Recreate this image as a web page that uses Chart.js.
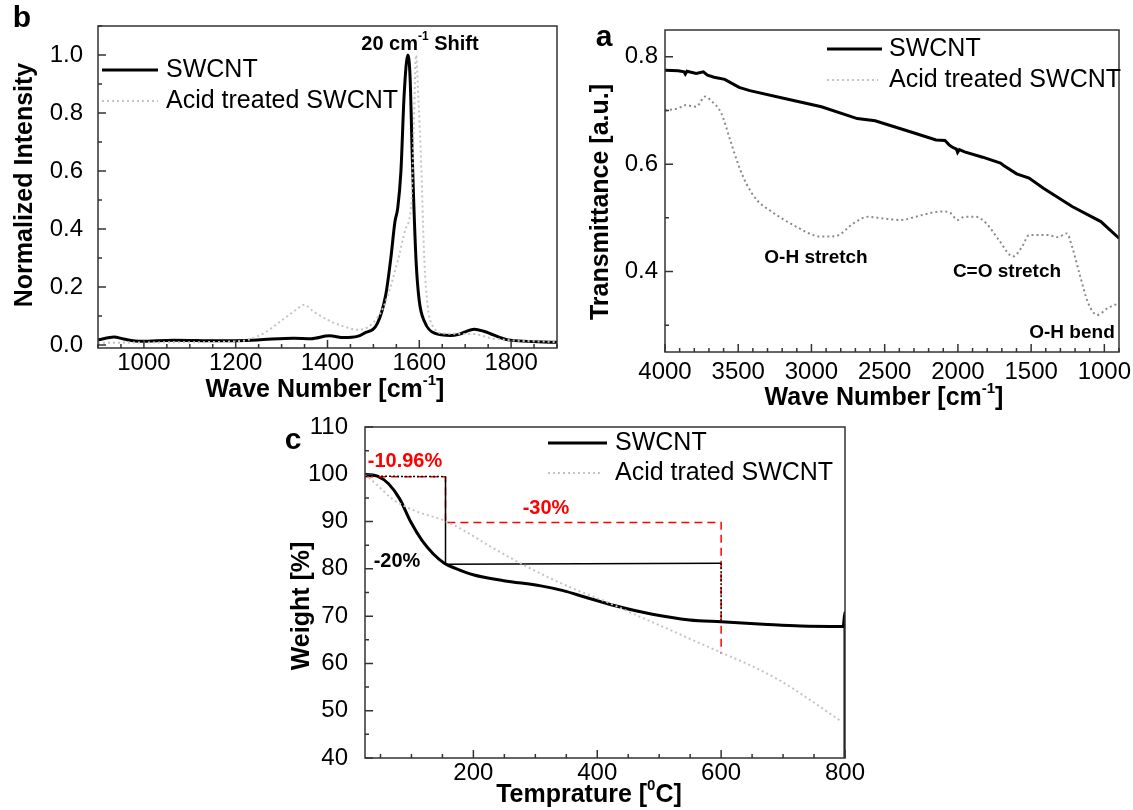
<!DOCTYPE html>
<html>
<head>
<meta charset="utf-8">
<script src="https://cdn.jsdelivr.net/npm/chart.js@4.4.1/dist/chart.umd.min.js"></script>
<style>
  body { margin: 0; background: #fff; width: 1133px; height: 810px; position: relative; overflow: hidden; }
  canvas { position: absolute; }
</style>
</head>
<body>
<canvas id="raman" width="575" height="410" style="left:0px;top:0px"></canvas>
<canvas id="ftir" width="558" height="410" style="left:575px;top:0px"></canvas>
<canvas id="tga" width="620" height="400" style="left:270px;top:410px"></canvas>
<script>
const FONT = "'Liberation Sans', Arial, sans-serif";

// panel b - Raman
const ramanSwcntX = [900, 935, 956, 993, 1065, 1160, 1247, 1327, 1364, 1404, 1436, 1465, 1480, 1509, 1527, 1538, 1547, 1553, 1560, 1567, 1575, 1580, 1585, 1593, 1600, 1611, 1633, 1669, 1684, 1720, 1742, 1793, 1900];
const ramanSwcntY = [0.018, 0.028, 0.021, 0.013, 0.017, 0.015, 0.018, 0.024, 0.022, 0.032, 0.026, 0.030, 0.041, 0.076, 0.174, 0.30, 0.426, 0.472, 0.60, 0.863, 1.0, 0.92, 0.633, 0.289, 0.151, 0.082, 0.041, 0.033, 0.036, 0.055, 0.047, 0.018, 0.010];
const ramanAcidX = [900, 1000, 1100, 1211, 1260, 1300, 1330, 1349, 1370, 1407, 1436, 1465, 1495, 1524, 1553, 1570, 1583, 1588, 1593, 1598, 1604, 1611, 1625, 1655, 1720, 1756, 1900];
const ramanAcidY = [0.008, 0.009, 0.010, 0.014, 0.040, 0.085, 0.120, 0.139, 0.115, 0.082, 0.064, 0.053, 0.070, 0.139, 0.29, 0.40, 0.50, 0.75, 1.0, 0.85, 0.63, 0.29, 0.08, 0.04, 0.038, 0.024, 0.010];
const ramanXTicks = [1000, 1200, 1400, 1600, 1800];
const ramanYTicks = [0, 0.2, 0.4, 0.6, 0.8, 1.0];

// panel a - FTIR
const ftirSwcntX = [4000, 3910, 3870, 3861, 3850, 3787, 3738, 3710, 3665, 3592, 3494, 3421, 3176, 2932, 2687, 2565, 2320, 2149, 2088, 2060, 2040, 2010, 2002, 1990, 1954, 1831, 1709, 1690, 1599, 1514, 1416, 1220, 1024, 900];
const ftirSwcntY = [0.775, 0.774, 0.772, 0.768, 0.773, 0.769, 0.772, 0.766, 0.762, 0.758, 0.743, 0.737, 0.722, 0.707, 0.685, 0.681, 0.660, 0.645, 0.644, 0.636, 0.632, 0.628, 0.622, 0.627, 0.623, 0.613, 0.602, 0.598, 0.582, 0.574, 0.555, 0.521, 0.493, 0.462];
const ftirAcidX = [4000, 3910, 3861, 3787, 3726, 3689, 3616, 3555, 3494, 3445, 3372, 3274, 3127, 2932, 2834, 2711, 2614, 2516, 2394, 2247, 2112, 2051, 2002, 1954, 1880, 1807, 1721, 1623, 1562, 1514, 1391, 1318, 1257, 1220, 1171, 1110, 1049, 976, 927, 900];
const ftirAcidY = [0.700, 0.704, 0.710, 0.707, 0.726, 0.719, 0.695, 0.645, 0.595, 0.564, 0.533, 0.512, 0.487, 0.465, 0.466, 0.490, 0.502, 0.499, 0.496, 0.505, 0.512, 0.509, 0.496, 0.502, 0.502, 0.490, 0.459, 0.428, 0.446, 0.468, 0.468, 0.464, 0.471, 0.446, 0.397, 0.341, 0.319, 0.332, 0.338, 0.340];
const ftirXTicks = [4000, 3500, 3000, 2500, 2000, 1500, 1000];
const ftirYTicks = [0.4, 0.6, 0.8];

// panel c - TGA
const tgaSwcntX = [25, 45, 63, 81, 99, 117, 135, 153, 171, 201, 249, 309, 345, 381, 429, 489, 549, 600, 668, 728, 797, 800, 800];
const tgaSwcntY = [100, 99.6, 98, 94.8, 89.9, 86, 83.2, 81.2, 80.1, 78.7, 77.5, 76.4, 75.4, 74, 72.2, 70.4, 69.2, 68.8, 68.3, 67.9, 67.8, 70.8, 40];
const tgaAcidX = [25, 45, 69, 105, 153, 189, 225, 273, 321, 369, 417, 465, 519, 560, 600, 644, 692, 740, 791];
const tgaAcidY = [100, 97.7, 94.8, 92.3, 90.2, 87.8, 84.9, 81.4, 78.2, 75.4, 72.9, 70.1, 67.0, 64.6, 62.3, 59.8, 56.6, 52.6, 48.0];
const tgaXTicks = [200, 400, 600, 800];
const tgaYTicks = [40, 50, 60, 70, 80, 90, 100, 110];
// weight-loss guide lines on panel c
const stepRedX = [25, 155, 155];
const stepRedY = [99.5, 99.5, 90];
const boxRedX = [158, 600, 600];
const boxRedY = [89.8, 89.8, 62];
const stepBlackX = [155, 155, 600];
const stepBlackY = [99.5, 81, 81.2];
const dotTopX = [25, 155];
const dotTopY = [99.6, 99.5];
const dotRightX = [600, 600];
const dotRightY = [81.2, 69];

const seriesNames = ['SWCNT', 'Acid treated SWCNT'];
const seriesNamesTga = ['SWCNT', 'Acid trated SWCNT'];

function pts(xs, ys) {
    return xs.map((x, i) => ({ x: x, y: ys[i] }));
}

function solid(xs, ys) {
    return { data: pts(xs, ys), borderColor: '#000', borderWidth: 3, pointRadius: 0, cubicInterpolationMode: 'monotone' };
}

function dotted(xs, ys, color) {
    return { data: pts(xs, ys), borderColor: color, borderWidth: 2, borderDash: [2, 3], pointRadius: 0, cubicInterpolationMode: 'monotone' };
}

function guide(xs, ys, color, width, dash) {
    return { data: pts(xs, ys), borderColor: color, borderWidth: width, borderDash: dash, pointRadius: 0, tension: 0 };
}

// text with optional superscript parts, centred on (cx, cy)
function richText(ctx, parts, cx, cy, size, color, bold) {
    const main = (bold ? 'bold ' : '') + size + 'px ' + FONT;
    const small = (bold ? 'bold ' : '') + Math.round(size * 0.6) + 'px ' + FONT;
    let w = 0;
    parts.forEach(p => { ctx.font = p.sup ? small : main; w += ctx.measureText(p.t).width; });
    let x = cx - w / 2;
    ctx.fillStyle = color;
    ctx.textAlign = 'left';
    ctx.textBaseline = 'middle';
    parts.forEach(p => {
        ctx.font = p.sup ? small : main;
        ctx.fillText(p.t, x, p.sup ? cy - size * 0.35 : cy);
        x += ctx.measureText(p.t).width;
    });
}

function makePanel(id, o) {
    const cv = document.getElementById(id);
    const ox = parseFloat(cv.style.left), oy = parseFloat(cv.style.top);

    const decor = {
        id: 'decor',
        afterDraw(chart) {
            const ctx = chart.ctx;
            const a = chart.chartArea;
            const xs = chart.scales.x, ys = chart.scales.y;
            ctx.save();
            // frame and inward ticks
            ctx.strokeStyle = '#333';
            ctx.lineWidth = 1.5;
            ctx.setLineDash([]);
            ctx.strokeRect(a.left, a.top, a.right - a.left, a.bottom - a.top);
            ctx.beginPath();
            for (let v = o.xMinorFrom; v <= o.xMax + 1e-9; v += o.xMinor) {
                const p = xs.getPixelForValue(v);
                const len = o.xTicks.some(t => Math.abs(t - v) < 1e-6) ? 8 : 4;
                ctx.moveTo(p, a.bottom); ctx.lineTo(p, a.bottom - len);
            }
            for (let v = o.yMinorFrom; v <= o.yMax + 1e-9; v += o.yMinor) {
                const p = ys.getPixelForValue(v);
                const len = o.yTicks.some(t => Math.abs(t - v) < 1e-6) ? 8 : 4;
                ctx.moveTo(a.left, p); ctx.lineTo(a.left + len, p);
            }
            ctx.stroke();

            // legend
            o.legend.forEach((l, i) => {
                const ly = l.y - oy;
                ctx.beginPath();
                ctx.strokeStyle = i === 0 ? '#000' : '#c4c4c4';
                ctx.lineWidth = i === 0 ? 3 : 2;
                ctx.setLineDash(i === 0 ? [] : [2, 3]);
                ctx.moveTo(l.x1 - ox, ly); ctx.lineTo(l.x2 - ox, ly);
                ctx.stroke();
                ctx.setLineDash([]);
                ctx.font = '25px ' + FONT;
                ctx.fillStyle = '#000';
                ctx.textAlign = 'left';
                ctx.textBaseline = 'middle';
                ctx.fillText(o.names[i], l.tx - ox, ly);
            });

            // labels and axis titles
            o.texts.forEach(t => {
                ctx.save();
                ctx.translate(t.x - ox, t.y - oy);
                if (t.rotate) ctx.rotate(-Math.PI / 2);
                richText(ctx, t.parts, 0, 0, t.size, t.color || '#000', true);
                ctx.restore();
            });
            ctx.restore();
        }
    };

    return new Chart(cv, {
        type: 'line',
        data: { datasets: o.datasets },
        options: {
            responsive: false,
            animation: false,
            devicePixelRatio: 1,
            layout: { padding: { left: 0, top: o.area.top, right: cv.width - o.area.right, bottom: 0 } },
            plugins: { legend: { display: false }, tooltip: { enabled: false } },
            scales: {
                x: {
                    type: 'linear', min: o.xMin, max: o.xMax, reverse: !!o.reverse,
                    afterBuildTicks: s => { s.ticks = o.xTicks.map(v => ({ value: v })); },
                    afterFit: s => {
                        s.height = cv.height - o.area.bottom;
                        s.paddingLeft = 0; s.paddingRight = 0;
                    },
                    ticks: { autoSkip: false, maxRotation: 0, padding: o.xPad, color: '#000', font: { family: FONT, size: 24 }, callback: o.xFmt },
                    grid: { display: false, drawTicks: false },
                    border: { display: false }
                },
                y: {
                    type: 'linear', min: o.yMin, max: o.yMax,
                    afterBuildTicks: s => { s.ticks = o.yTicks.map(v => ({ value: v })); },
                    afterFit: s => {
                        s.width = o.area.left;
                        s.paddingTop = 0; s.paddingBottom = 0;
                    },
                    ticks: { autoSkip: false, padding: o.yPad, color: '#000', font: { family: FONT, size: 24 }, callback: o.yFmt },
                    grid: { display: false, drawTicks: false },
                    border: { display: false }
                }
            }
        },
        plugins: [decor]
    });
}

makePanel('raman', {
    area: { left: 98, right: 557, top: 26, bottom: 348 },
    xMin: 900, xMax: 1900, yMin: -0.01, yMax: 1.1,
    xTicks: ramanXTicks, yTicks: ramanYTicks,
    xMinor: 50, xMinorFrom: 900, yMinor: 0.1, yMinorFrom: 0,
    xPad: 1, yPad: 15,
    xFmt: v => String(v), yFmt: v => v.toFixed(1),
    datasets: [dotted(ramanAcidX, ramanAcidY, '#c4c4c4'), solid(ramanSwcntX, ramanSwcntY)],
    names: seriesNames,
    legend: [{ x1: 102, x2: 158, tx: 166, y: 70 }, { x1: 102, x2: 158, tx: 166, y: 101 }],
    texts: [
        { parts: [{ t: 'b' }], x: 22, y: 19, size: 30 },
        { parts: [{ t: 'Normalized Intensity' }], x: 25, y: 185, size: 25, rotate: true },
        { parts: [{ t: 'Wave Number [cm' }, { t: '-1', sup: true }, { t: ']' }], x: 325, y: 390, size: 25 },
        { parts: [{ t: '20 cm' }, { t: '-1', sup: true }, { t: ' Shift' }], x: 420, y: 44, size: 20 }
    ]
});

makePanel('ftir', {
    area: { left: 90, right: 544, top: 30, bottom: 352 },
    xMin: 900, xMax: 4000, yMin: 0.25, yMax: 0.85, reverse: true,
    xTicks: ftirXTicks, yTicks: ftirYTicks,
    xMinor: 100, xMinorFrom: 900, yMinor: 0.1, yMinorFrom: 0.3,
    xPad: 6, yPad: 7,
    xFmt: v => String(v), yFmt: v => v.toFixed(1),
    datasets: [dotted(ftirAcidX, ftirAcidY, '#8a8a8a'), Object.assign(solid(ftirSwcntX, ftirSwcntY), { cubicInterpolationMode: 'default', tension: 0 })],
    names: seriesNames,
    legend: [{ x1: 827, x2: 882, tx: 889, y: 49 }, { x1: 827, x2: 878, tx: 889, y: 80 }],
    texts: [
        { parts: [{ t: 'a' }], x: 604, y: 38, size: 30 },
        { parts: [{ t: 'Transmittance [a.u.]' }], x: 601, y: 202, size: 25, rotate: true },
        { parts: [{ t: 'Wave Number [cm' }, { t: '-1', sup: true }, { t: ']' }], x: 884, y: 398, size: 25 },
        { parts: [{ t: 'O-H stretch' }], x: 816, y: 258, size: 19 },
        { parts: [{ t: 'C=O stretch' }], x: 1007, y: 272, size: 19 },
        { parts: [{ t: 'O-H bend' }], x: 1072, y: 333, size: 19 }
    ]
});

makePanel('tga', {
    area: { left: 95, right: 575, top: 17, bottom: 348 },
    xMin: 25, xMax: 800, yMin: 40, yMax: 110,
    xTicks: tgaXTicks, yTicks: tgaYTicks,
    xMinor: 50, xMinorFrom: 50, yMinor: 5, yMinorFrom: 40,
    xPad: 1, yPad: 17,
    xFmt: v => String(v), yFmt: v => String(v),
    datasets: [
        dotted(tgaAcidX, tgaAcidY, '#c4c4c4'),
        guide(stepBlackX, stepBlackY, '#000', 1.5, []),
        guide(dotTopX, dotTopY, '#000', 1.5, [2, 2]),
        guide(dotRightX, dotRightY, '#000', 1.5, [2, 2]),
        guide(stepRedX, stepRedY, '#ff0000', 1.5, [8, 5]),
        guide(boxRedX, boxRedY, '#ff0000', 1.5, [8, 5]),
        solid(tgaSwcntX, tgaSwcntY)
    ],
    names: seriesNamesTga,
    legend: [{ x1: 548, x2: 607, tx: 615, y: 443 }, { x1: 548, x2: 603, tx: 615, y: 473 }],
    texts: [
        { parts: [{ t: 'c' }], x: 293, y: 441, size: 30 },
        { parts: [{ t: 'Weight [%]' }], x: 302, y: 606, size: 25, rotate: true },
        { parts: [{ t: 'Temprature [' }, { t: '0', sup: true }, { t: 'C]' }], x: 589, y: 795, size: 25 },
        { parts: [{ t: '-10.96%' }], x: 405, y: 461, size: 20, color: '#ff0000' },
        { parts: [{ t: '-30%' }], x: 546, y: 508, size: 20, color: '#ff0000' },
        { parts: [{ t: '-20%' }], x: 397, y: 561, size: 20 }
    ]
});
</script>
</body>
</html>
